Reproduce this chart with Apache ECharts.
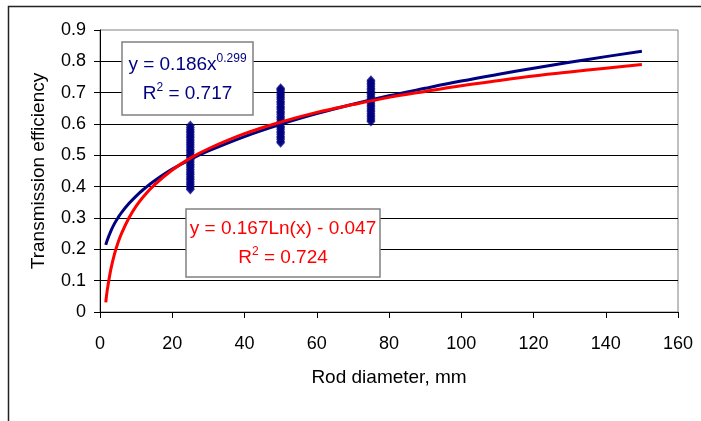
<!DOCTYPE html>
<html>
<head>
<meta charset="utf-8">
<script src="https://cdn.jsdelivr.net/npm/echarts@6/dist/echarts.min.js"></script>
<style>html,body{margin:0;padding:0;background:#fff}#c{width:701px;height:421px}</style>
</head>
<body>
<div id="c"></div>
<script>
// ---- data ----
const xTicks = [0, 20, 40, 60, 80, 100, 120, 140, 160];
const yTicks = [0, 0.1, 0.2, 0.3, 0.4, 0.5, 0.6, 0.7, 0.8, 0.9];

// measured transmission efficiency at each rod diameter (many overlapping points)
const d25 = [0.391, 0.396, 0.401, 0.407, 0.412, 0.417, 0.423, 0.428, 0.433, 0.439, 0.444, 0.449, 0.455, 0.46, 0.466, 0.471, 0.476, 0.482, 0.487, 0.492, 0.498, 0.503, 0.508, 0.514, 0.519, 0.524, 0.53, 0.535, 0.54, 0.546, 0.551, 0.557, 0.562, 0.567, 0.573, 0.578, 0.583, 0.589, 0.595];
const d50 = [0.54, 0.545, 0.551, 0.556, 0.561, 0.567, 0.572, 0.577, 0.583, 0.588, 0.593, 0.599, 0.604, 0.609, 0.615, 0.62, 0.625, 0.631, 0.636, 0.641, 0.647, 0.652, 0.657, 0.663, 0.668, 0.673, 0.679, 0.684, 0.689, 0.695, 0.7, 0.705, 0.71, 0.714];
const d75 = [0.608, 0.613, 0.618, 0.624, 0.629, 0.634, 0.64, 0.645, 0.65, 0.656, 0.661, 0.666, 0.672, 0.677, 0.682, 0.688, 0.693, 0.698, 0.704, 0.709, 0.714, 0.72, 0.725, 0.73, 0.735, 0.74];

// trend curves
const trendX   = [1.6, 2, 3, 4, 5, 6, 8, 10, 12, 15, 20, 25, 30, 40, 50, 60, 70, 80, 90, 100, 110, 120, 130, 140, 150];
const powerFit = [0.214, 0.229, 0.258, 0.282, 0.301, 0.318, 0.346, 0.370, 0.391, 0.418, 0.456, 0.487, 0.514, 0.560, 0.599, 0.633, 0.663, 0.690, 0.714, 0.737, 0.758, 0.778, 0.797, 0.815, 0.832];
const logFit   = [0.031, 0.069, 0.136, 0.185, 0.222, 0.252, 0.300, 0.338, 0.368, 0.405, 0.453, 0.491, 0.521, 0.569, 0.606, 0.637, 0.662, 0.685, 0.704, 0.722, 0.738, 0.753, 0.766, 0.778, 0.790];

const powerEq = ['y = 0.186x', '0.299'];
const powerR2 = ['R', '2', ' = 0.717'];
const logEq = 'y = 0.167Ln(x) - 0.047';
const logR2 = ['R', '2', ' = 0.724'];

// ---- build ----
const scatterData = []
  .concat(d25.map(v => [25, v]))
  .concat(d50.map(v => [50, v]))
  .concat(d75.map(v => [75, v]));
const pairs = ys => trendX.map((x, i) => [x, ys[i]]);

const FONT = '"Liberation Sans", Arial, sans-serif';
const NAVY = '#000080';
const RED = '#ff0000';
const richStyle = c => ({
  m: {fontSize: 19, fill: c, lineHeight: 24, fontFamily: FONT},
  s: {fontSize: 12, fill: c, lineHeight: 10, verticalAlign: 'top', fontFamily: FONT}
});

const chart = echarts.init(document.getElementById('c'), null, {renderer: 'canvas'});
chart.setOption({
  backgroundColor: '#ffffff',
  animation: false,
  textStyle: {fontFamily: FONT},
  grid: {left: 100, top: 30, width: 578, height: 282, show: true, borderColor: '#808080', borderWidth: 1, backgroundColor: 'transparent'},
  xAxis: {
    type: 'value', min: xTicks[0], max: xTicks[xTicks.length - 1], interval: xTicks[1] - xTicks[0],
    name: 'Rod diameter, mm', nameLocation: 'middle', nameGap: 56,
    nameTextStyle: {fontSize: 19, color: '#000', fontFamily: FONT},
    axisLine: {show: true, onZero: false, lineStyle: {color: '#000', width: 1}},
    axisTick: {show: true, inside: false, length: 6, lineStyle: {color: '#000'}},
    axisLabel: {fontSize: 18, color: '#000', margin: 23, fontFamily: FONT,
      formatter: v => { const t = xTicks.find(k => Math.abs(k - v) < 1e-6); return String(t !== undefined ? t : v); }},
    splitLine: {show: false}
  },
  yAxis: {
    type: 'value', min: yTicks[0], max: yTicks[yTicks.length - 1], interval: 0.1,
    name: 'Transmission efficiency', nameLocation: 'middle', nameGap: 52,
    nameTextStyle: {fontSize: 19, color: '#000', fontFamily: FONT},
    axisLine: {show: true, lineStyle: {color: '#000', width: 1}},
    axisTick: {show: true, length: 6, lineStyle: {color: '#000'}},
    axisLabel: {fontSize: 18, color: '#000', margin: 14, fontFamily: FONT,
      formatter: v => { const t = yTicks.find(k => Math.abs(k - v) < 1e-6); return String(t !== undefined ? t : v); }},
    splitLine: {show: true, showMaxLine: false, lineStyle: {color: '#000', width: 1}}
  },
  series: [
    {
      type: 'scatter', data: scatterData, symbol: 'diamond', symbolSize: [9, 10],
      itemStyle: {color: NAVY}, z: 2
    },
    {
      type: 'line', data: pairs(powerFit), showSymbol: false, smooth: 0.4,
      lineStyle: {color: NAVY, width: 3}, z: 3
    },
    {
      type: 'line', data: pairs(logFit), showSymbol: false, smooth: 0.4,
      lineStyle: {color: RED, width: 3}, z: 4
    }
  ],
  graphic: [
    {type: 'rect', shape: {x: 8.5, y: 6.5, width: 800, height: 600}, style: {fill: null, stroke: '#222', lineWidth: 1.5}, silent: true, z: 0},
    {type: 'rect', shape: {x: 122, y: 42, width: 131, height: 73}, style: {fill: '#fff', stroke: '#808080', lineWidth: 1.5}, z: 10},
    {type: 'text', x: 187.5, y: 53, z: 11, style: {
      text: '{m|' + powerEq[0] + '}{s|' + powerEq[1] + '}',
      align: 'center', verticalAlign: 'top', fontFamily: FONT, rich: richStyle(NAVY)
    }},
    {type: 'text', x: 187.5, y: 82, z: 11, style: {
      text: '{m|' + powerR2[0] + '}{s|' + powerR2[1] + '}{m|' + powerR2[2] + '}',
      align: 'center', verticalAlign: 'top', fontFamily: FONT, rich: richStyle(NAVY)
    }},
    {type: 'rect', shape: {x: 186, y: 209, width: 194, height: 68}, style: {fill: '#fff', stroke: '#808080', lineWidth: 1.5}, z: 10},
    {type: 'text', x: 283, y: 229, z: 11, style: {
      text: logEq, align: 'center', verticalAlign: 'middle', fontSize: 19, fill: RED, fontFamily: FONT
    }},
    {type: 'text', x: 283, y: 246, z: 11, style: {
      text: '{m|' + logR2[0] + '}{s|' + logR2[1] + '}{m|' + logR2[2] + '}',
      align: 'center', verticalAlign: 'top', fontFamily: FONT, rich: richStyle(RED)
    }}
  ]
});
</script>
</body>
</html>
